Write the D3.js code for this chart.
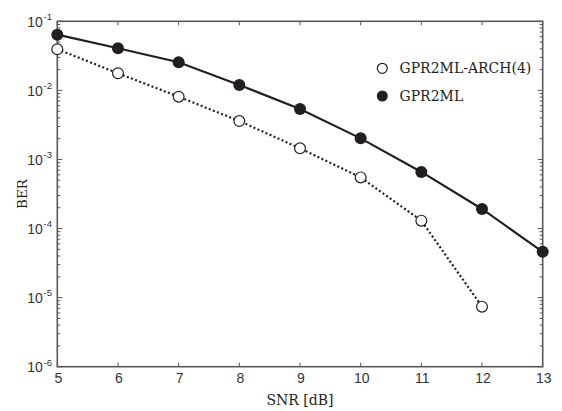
<!DOCTYPE html>
<html>
<head>
<meta charset="utf-8">
<script src="https://cdn.jsdelivr.net/npm/d3@7"></script>
<style>
  html, body { margin: 0; padding: 0; background: #fff; }
  svg { display: block; }
</style>
</head>
<body>
<svg id="chart" width="562" height="411"></svg>
<script>
// SNR points (dB)
const snr = [5, 6, 7, 8, 9, 10, 11, 12, 13];
// BER of the reference receiver
const berGPR2ML = [0.064, 0.0407, 0.0255, 0.0120, 0.00537, 0.00202, 6.6e-4, 1.92e-4, 4.6e-5];
// BER of the ARCH(4) receiver (no point at 13 dB)
const snrArch = [5, 6, 7, 8, 9, 10, 11, 12];
const berArch = [0.0394, 0.0177, 0.0081, 0.0036, 0.00145, 5.5e-4, 1.30e-4, 7.4e-6];
// Axis tick labels
const xTicks = [5, 6, 7, 8, 9, 10, 11, 12, 13];
const yExponents = [-1, -2, -3, -4, -5, -6];
const legendLabels = ["GPR2ML-ARCH(4)", "GPR2ML"];

const svg = d3.select("#chart");
const L = 57.3, R = 542.7, T = 21.3, B = 366.7;

const x = d3.scaleLinear().domain([5, 13]).range([L, R]);
const y = d3.scaleLog().domain([1e-6, 1e-1]).range([B, T]);

const axisColor = "#5a5656";
const labelColor = "#333";
const ink = "#231f20";
const serif = "'DejaVu Serif', 'Liberation Serif', serif";

// Tick marks pointing inward on all four sides
const ticks = svg.append("g").attr("stroke", axisColor).attr("stroke-width", 1);
xTicks.forEach(v => {
  ticks.append("line").attr("x1", x(v)).attr("x2", x(v)).attr("y1", B).attr("y2", B - 4);
  ticks.append("line").attr("x1", x(v)).attr("x2", x(v)).attr("y1", T).attr("y2", T + 4);
});
for (let e = -6; e < -1; e++) {
  for (let m = 1; m <= 9; m++) {
    const v = m * Math.pow(10, e);
    const len = m === 1 ? 5 : 3;
    ticks.append("line").attr("x1", L).attr("x2", L + len).attr("y1", y(v)).attr("y2", y(v));
    ticks.append("line").attr("x1", R).attr("x2", R - len).attr("y1", y(v)).attr("y2", y(v));
  }
}
ticks.append("line").attr("x1", L).attr("x2", L + 5).attr("y1", y(0.1)).attr("y2", y(0.1));
ticks.append("line").attr("x1", R).attr("x2", R - 5).attr("y1", y(0.1)).attr("y2", y(0.1));

// Frame
svg.append("rect")
  .attr("x", L).attr("y", T).attr("width", R - L).attr("height", B - T)
  .attr("fill", "none").attr("stroke", axisColor).attr("stroke-width", 1.6);

// X tick labels
svg.append("g").selectAll("text").data(xTicks).join("text")
  .attr("x", d => x(d) + 1).attr("y", 382.7)
  .attr("text-anchor", "middle")
  .attr("font-family", "'Liberation Sans', Arial, sans-serif")
  .attr("font-size", 14).attr("fill", labelColor)
  .text(d => d);

// Y tick labels as 10 with a superscript exponent
const yl = svg.append("g")
  .attr("font-family", "'Liberation Sans', Arial, sans-serif")
  .attr("fill", labelColor);
yExponents.forEach(e => {
  const yy = y(Math.pow(10, e));
  yl.append("text").attr("x", 42.8).attr("y", yy + 5.5)
    .attr("text-anchor", "end").attr("font-size", 14).text("10");
  yl.append("text").attr("x", 43.5).attr("y", yy - 1.2)
    .attr("text-anchor", "start").attr("font-size", 9.5).text(String(e));
});

// Axis titles
svg.append("text")
  .attr("x", (L + R) / 2).attr("y", 405)
  .attr("text-anchor", "middle")
  .attr("font-family", serif)
  .attr("font-size", 14).attr("fill", ink)
  .text("SNR [dB]");
svg.append("text")
  .attr("transform", `translate(26.5,${(T + B) / 2}) rotate(-90)`)
  .attr("text-anchor", "middle")
  .attr("font-family", serif)
  .attr("font-size", 13.5).attr("fill", ink)
  .text("BER");

// Series lines
const line = d3.line().x(d => x(d[0])).y(d => y(d[1]));
const archPts = snrArch.map((s, i) => [s, berArch[i]]);
const mlPts = snr.map((s, i) => [s, berGPR2ML[i]]);

svg.append("path").datum(archPts).attr("d", line)
  .attr("fill", "none").attr("stroke", ink).attr("stroke-width", 2.2)
  .attr("stroke-dasharray", "2,2.4");
svg.append("path").datum(mlPts).attr("d", line)
  .attr("fill", "none").attr("stroke", ink).attr("stroke-width", 2.2);

// Markers
svg.append("g").selectAll("circle").data(archPts).join("circle")
  .attr("cx", d => x(d[0])).attr("cy", d => y(d[1])).attr("r", 5.4)
  .attr("fill", "#fff").attr("stroke", ink).attr("stroke-width", 1.2);
svg.append("g").selectAll("circle").data(mlPts).join("circle")
  .attr("cx", d => x(d[0])).attr("cy", d => y(d[1])).attr("r", 6)
  .attr("fill", ink);

// Legend
const lg = svg.append("g");
lg.append("circle").attr("cx", 382.3).attr("cy", 68.3).attr("r", 5)
  .attr("fill", "#fff").attr("stroke", ink).attr("stroke-width", 1.2);
lg.append("circle").attr("cx", 382.3).attr("cy", 96).attr("r", 5.5).attr("fill", ink);
legendLabels.forEach((t, i) => {
  lg.append("text").attr("x", 399.5).attr("y", 73 + i * 27.7)
    .attr("font-family", serif)
    .attr("font-size", 14).attr("fill", ink)
    .text(t);
});
</script>
</body>
</html>
